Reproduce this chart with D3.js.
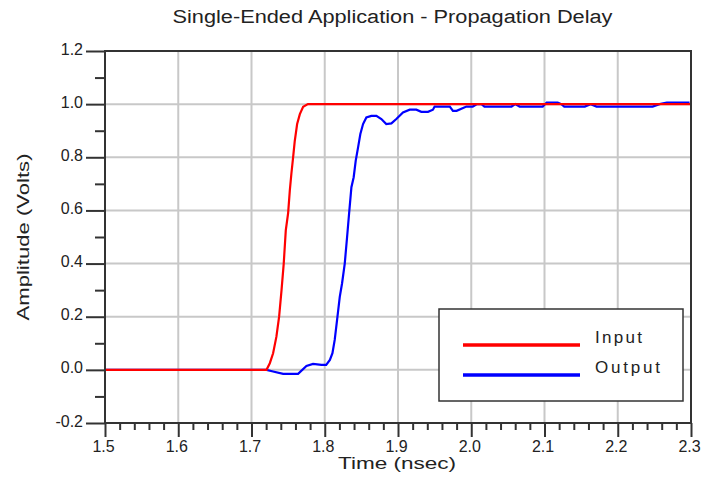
<!DOCTYPE html>
<html>
<head>
<meta charset="utf-8">
<script src="https://cdn.jsdelivr.net/npm/d3@7"></script>
<style>
html,body{margin:0;padding:0;background:#fff;}
svg text{font-family:"Liberation Sans",Arial,sans-serif;fill:#222;}
</style>
</head>
<body>
<svg id="chart" width="701" height="502"></svg>
<script>
const title = "Single-Ended Application - Propagation Delay";
const xLabel = "Time (nsec)";
const yLabel = "Amplitude (Volts)";
const xTicks = [1.5,1.6,1.7,1.8,1.9,2.0,2.1,2.2,2.3];
const xTickLabels = ["1.5","1.6","1.7","1.8","1.9","2.0","2.1","2.2","2.3"];
const yTicks = [-0.2,0.0,0.2,0.4,0.6,0.8,1.0,1.2];
const yTickLabels = ["-0.2","0.0","0.2","0.4","0.6","0.8","1.0","1.2"];
const seriesNames = ["Input","Output"];
const seriesColors = ["#ff0000","#0000ff"];

const inputT = [1.5,1.7205,1.725,1.7295,1.734,1.7377,1.741,1.744,1.7468,1.75,1.7523,1.7545,1.7568,1.759,1.7623,1.766,1.7705,1.777,2.3];
const inputV = [0,0,0.025,0.0625,0.125,0.2,0.3,0.4,0.525,0.59,0.675,0.74,0.8,0.86,0.925,0.9625,0.99,1.0,1.0];

const outputT = [1.5,1.7205,1.7295,1.7432,1.7636,1.775,1.784,1.7955,1.802,1.807,1.8105,1.8136,1.8168,1.8205,1.8236,1.8273,1.8305,1.8332,1.8364,1.8395,1.8423,1.8455,1.8486,1.8523,1.8568,1.8636,1.8705,1.8773,1.884,1.891,1.8977,1.9068,1.916,1.925,1.9318,1.941,1.9477,1.950,1.9707,1.975,1.980,1.9934,2.002,2.008,2.014,2.018,2.055,2.060,2.066,2.0975,2.103,2.118,2.123,2.127,2.155,2.163,2.171,2.2476,2.257,2.267,2.298];
const outputV = [0,0,-0.006,-0.015,-0.015,0.015,0.0225,0.019,0.019,0.0375,0.0625,0.1125,0.1875,0.275,0.325,0.4,0.5,0.5875,0.6875,0.725,0.7875,0.8375,0.8875,0.925,0.95,0.956,0.956,0.944,0.925,0.9275,0.944,0.969,0.979,0.979,0.971,0.971,0.979,0.991,0.991,0.975,0.975,0.991,0.991,1.0,1.0,0.991,0.991,1.0,0.991,0.991,1.006,1.006,1.0,0.991,0.991,1.0,0.991,0.991,1.0,1.006,1.006];

const svg = d3.select("#chart");
const L = 105, R = 691, T = 51, B = 423;
const x = d3.scaleLinear().domain([1.5,2.3]).range([L,R]);
const y = d3.scaleLinear().domain([-0.2,1.2]).range([B,T]);

// grid
const grid = svg.append("g");
grid.selectAll("line.gx").data(xTicks.slice(1,-1)).join("line")
  .attr("x1",d=>x(d)).attr("x2",d=>x(d)).attr("y1",T).attr("y2",B)
  .attr("stroke","#c8c8c8").attr("stroke-width",2);
grid.selectAll("line.gy").data(yTicks.slice(1,-1)).join("line")
  .attr("x1",L).attr("x2",R).attr("y1",d=>y(d)).attr("y2",d=>y(d))
  .attr("stroke","#c8c8c8").attr("stroke-width",2);

// axes
const xMinor = d3.range(0,41).map(i=>1.5+i*0.02).filter((d,i)=>i%5!==0);
const yMinor = d3.range(0,14).map(i=>-0.2+i*0.1).filter((d,i)=>i%2===1);

const xAxis = svg.append("g").attr("transform",`translate(0,${B})`)
  .call(d3.axisBottom(x).tickValues(xTicks).tickFormat((d,i)=>xTickLabels[i]).tickSize(14).tickPadding(4));
const xAxisMinor = svg.append("g").attr("transform",`translate(0,${B})`)
  .call(d3.axisBottom(x).tickValues(xMinor).tickFormat("").tickSize(7));
const yAxis = svg.append("g").attr("transform",`translate(${L},0)`)
  .call(d3.axisLeft(y).tickValues(yTicks).tickFormat((d,i)=>yTickLabels[i]).tickSize(19).tickPadding(3));
const yAxisMinor = svg.append("g").attr("transform",`translate(${L},0)`)
  .call(d3.axisLeft(y).tickValues(yMinor).tickFormat("").tickSize(10));

[xAxis,xAxisMinor,yAxis,yAxisMinor].forEach(g=>{
  g.select(".domain").remove();
  g.selectAll(".tick line").attr("stroke","#333").attr("stroke-width",2);
  g.selectAll(".tick text").attr("font-size",16).attr("fill","#222")
   .style("font-family","'Liberation Sans',Arial,sans-serif");
});
xAxis.selectAll(".tick text").attr("dy","0").attr("y",29).attr("x",-2);
yAxis.selectAll(".tick text").attr("dy","0").attr("y",3).attr("x",-22);

// series
const inputData = inputT.map((t,i)=>({t,v:inputV[i]}));
const outputData = outputT.map((t,i)=>({t,v:outputV[i]}));
const line = d3.line().x(d=>x(d.t)).y(d=>y(d.v)).curve(d3.curveLinear);
svg.append("path").datum(outputData).attr("d",line).attr("fill","none")
  .attr("stroke",seriesColors[1]).attr("stroke-width",2.2);
svg.append("path").datum(inputData).attr("d",line).attr("fill","none")
  .attr("stroke",seriesColors[0]).attr("stroke-width",2.2);

// frame
svg.append("rect").attr("x",L).attr("y",T).attr("width",R-L).attr("height",B-T)
  .attr("fill","none").attr("stroke","#333").attr("stroke-width",2);

// legend
const lg = svg.append("g");
lg.append("rect").attr("x",439).attr("y",309).attr("width",244).attr("height",92)
  .attr("fill","#fff").attr("stroke","#333").attr("stroke-width",1.5);
seriesNames.forEach((n,i)=>{
  const yy = 345 + i*30;
  lg.append("line").attr("x1",463).attr("x2",580).attr("y1",yy).attr("y2",yy)
    .attr("stroke",seriesColors[i]).attr("stroke-width",3.5);
  lg.append("text").attr("x",595).attr("y",yy-2).attr("font-size",17)
    .attr("textLength",i===0?47:65).attr("lengthAdjust","spacing").text(n);
});

// titles
svg.append("text").attr("x",172.5).attr("y",23).attr("font-size",18)
  .attr("textLength",440).attr("lengthAdjust","spacingAndGlyphs").text(title);
svg.append("text").attr("x",397).attr("y",469).attr("font-size",17)
  .attr("text-anchor","middle").attr("textLength",118).attr("lengthAdjust","spacingAndGlyphs").text(xLabel);
svg.append("text").attr("transform","translate(29,237) rotate(-90)").attr("font-size",17)
  .attr("text-anchor","middle").attr("textLength",167).attr("lengthAdjust","spacingAndGlyphs").text(yLabel);
</script>
</body>
</html>
